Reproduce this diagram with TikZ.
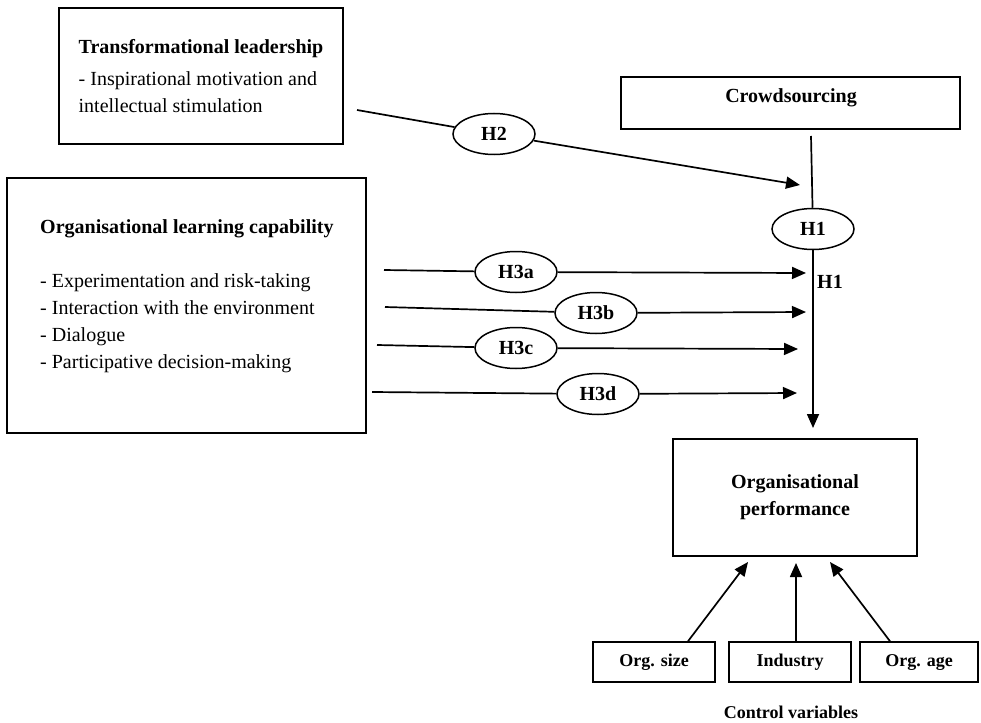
\documentclass[tikz,border=0pt]{standalone}
\usepackage{fontspec}
\setmainfont{Liberation Serif}
\usetikzlibrary{arrows.meta,shapes.geometric}
\begin{document}
\begin{tikzpicture}[x=1pt,y=-1pt,
  every node/.style={font=\fontsize{20}{27}\selectfont},
  box/.style={draw, line width=1.5pt, inner sep=0pt},
  hyp/.style={draw, ellipse, line width=1.5pt, minimum width=82pt, minimum height=41pt, inner sep=0pt, font=\fontsize{20}{24}\selectfont\bfseries},
  ln/.style={line width=1.7pt},
  arr/.style={ln, -{Triangle[length=14pt,width=12pt]}},
  cv/.style={box, minimum height=40pt, text height=12.5pt, text depth=4pt, font=\fontsize{18}{22}\selectfont\bfseries},
  lbl/.style={font=\fontsize{18}{22}\selectfont\bfseries}
]
\useasboundingbox (0,0) rectangle (981,722);
\fill[white] (0,0) rectangle (981,722);

% boxes
\node[box, minimum width=284pt, minimum height=136pt, align=left] (tl) at (201,76)
  {\textbf{Transformational leadership}\\[5pt]- Inspirational motivation and\\intellectual stimulation};
\node[box, minimum width=339pt, minimum height=52pt] (cs) at (790.5,103) {};
\node[font=\fontsize{20}{24}\selectfont\bfseries] (cstext) at (791,98) {Crowdsourcing};
\node[box, minimum width=359pt, minimum height=255pt] (olc) at (186.5,305.5) {};
\node[anchor=north west, align=left, inner sep=0pt] (olctext) at (40,219)
  {\textbf{Organisational learning capability}\\[27pt]- Experimentation and risk-taking\\- Interaction with the environment\\- Dialogue\\- Participative decision-making};
\node[box, minimum width=244pt, minimum height=117pt, align=center, font=\fontsize{20}{27}\selectfont\bfseries] (perf) at (795,497.5)
  {Organisational\\performance};

% control variables
\node[cv, minimum width=122pt] (osize) at (654,662) {Org. size};
\node[cv, minimum width=122pt] (ind) at (790,662) {Industry};
\node[cv, minimum width=118pt] (oage) at (919,662) {Org. age};
\node[lbl] (ctrl) at (791,712) {Control variables};

% H2
\coordinate (h2s) at (357,110);
\coordinate (h2e) at (800,185);
\node[hyp] (H2) at (494,134) {H2};
\draw[ln] (h2s) -- (H2);
\draw[arr] (H2) -- (h2e);

% H1
\coordinate (h1s) at (811,136);
\coordinate (h1e) at (813,428);
\node[hyp] (H1) at (813,229) {H1};
\draw[ln] (h1s) -- (H1);
\draw[arr] (H1) -- (h1e);
\node[font=\fontsize{20}{24}\selectfont\bfseries] (h1lab) at (830,282) {H1};

% H3a
\coordinate (h3as) at (384,270);
\coordinate (h3ae) at (806,273);
\node[hyp] (H3a) at (516,272) {H3a};
\draw[ln] (h3as) -- (H3a);
\draw[arr] (H3a) -- (h3ae);

% H3b
\coordinate (h3bs) at (385,307);
\coordinate (h3be) at (806,312);
\node[hyp] (H3b) at (596,313) {H3b};
\draw[ln] (h3bs) -- (H3b);
\draw[arr] (H3b) -- (h3be);

% H3c
\coordinate (h3cs) at (377,345);
\coordinate (h3ce) at (798,349);
\node[hyp] (H3c) at (516,348) {H3c};
\draw[ln] (h3cs) -- (H3c);
\draw[arr] (H3c) -- (h3ce);

% H3d
\coordinate (h3ds) at (372,392);
\coordinate (h3de) at (797,393);
\node[hyp] (H3d) at (598,394) {H3d};
\draw[ln] (h3ds) -- (H3d);
\draw[arr] (H3d) -- (h3de);

% control arrows
\coordinate (t1) at (748,562);
\coordinate (t2) at (796,563);
\coordinate (t3) at (830,562);
\draw[arr] ([xshift=34pt]osize.north) -- (t1);
\draw[arr] ([xshift=6pt]ind.north) -- (t2);
\draw[arr] ([xshift=-29pt]oage.north) -- (t3);
\end{tikzpicture}
\end{document}
